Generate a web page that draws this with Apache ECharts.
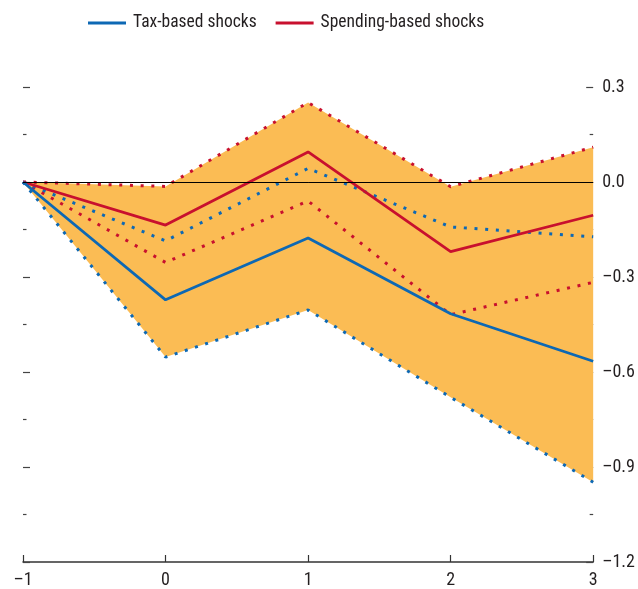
<!DOCTYPE html>
<html>
<head>
<meta charset="utf-8">
<script src="https://cdn.jsdelivr.net/npm/echarts@6/dist/echarts.min.js"></script>
<style>
  html, body { margin: 0; padding: 0; background: #fff; }
  #chart { width: 638px; height: 589px; }
</style>
</head>
<body>
<div id="chart"></div>
<script>
// horizon (years)
const categories = ['-1', '0', '1', '2', '3'];
// point estimates
const taxShock = [0, -0.372, -0.177, -0.416, -0.566];
const spendShock = [0, -0.136, 0.095, -0.220, -0.105];
// confidence bands
const taxUpper = [0, -0.186, 0.043, -0.142, -0.173];
const taxLower = [0, -0.553, -0.404, -0.680, -0.948];
const spendUpper = [0, -0.014, 0.251, -0.015, 0.110];
const spendLower = [0, -0.254, -0.060, -0.419, -0.317];
const yTicks = { min: -1.2, max: 0.3, interval: 0.3 };

const BLUE = '#0D68B4';
const RED = '#C8102E';
const FILL = '#FBBC54';
const FONT = '"Liberation Sans Narrow", "Roboto Condensed", Roboto, sans-serif';

const fmt = v => String(v).replace('-', '\u2013');
const fmtY = v => v.toFixed(1).replace('-', '\u2013');

// band runs from the lowest lower bound to the highest upper bound
const bandWidth = spendUpper.map((u, i) => u - taxLower[i]);

const chart = echarts.init(document.getElementById('chart'));

function dotted(name, data, color) {
  return {
    name: name,
    type: 'line',
    data: data,
    symbol: 'none',
    silent: true,
    z: 3,
    lineStyle: { color: color, width: 3, type: [3, 7.7], cap: 'butt' },
  };
}

const yBase = {
  type: 'value',
  min: yTicks.min,
  max: yTicks.max,
  interval: yTicks.interval,
  axisLine: { show: false },
  splitLine: { show: false },
  axisTick: { show: true, inside: true, length: 7, lineStyle: { color: '#444', width: 1.2 } },
  minorTick: { show: true, splitNumber: 2, length: 3.5, lineStyle: { color: '#444', width: 1.2 } },
};

const option = {
  animation: false,
  textStyle: { fontFamily: FONT },
  legend: {
    left: 83,
    top: 9,
    icon: 'rect',
    itemWidth: 38,
    itemHeight: 3,
    itemGap: 19,
    textStyle: { fontFamily: FONT, fontSize: 17.5, color: '#231F20', padding: [0, 0, 0, 2] },
    data: ['Tax-based shocks', 'Spending-based shocks'],
  },
  grid: { left: 23, right: 44, top: 87, bottom: 26, containLabel: false },
  xAxis: {
    type: 'category',
    data: categories,
    boundaryGap: false,
    axisLine: { show: true, onZero: false, lineStyle: { color: '#333', width: 1.5 } },
    axisTick: { show: true, inside: true, length: 7, lineStyle: { color: '#333', width: 1.2 } },
    axisLabel: { fontFamily: FONT, fontSize: 18, color: '#231F20', margin: 9, formatter: fmt },
  },
  yAxis: [
    Object.assign({}, yBase, { position: 'left', axisLabel: { show: false } }),
    Object.assign({}, yBase, {
      position: 'right',
      axisLabel: { fontFamily: FONT, fontSize: 18, color: '#231F20', margin: 9, formatter: fmtY },
    }),
  ],
  series: [
    {
      name: 'bandBase',
      type: 'line',
      data: taxLower,
      stack: 'band',
      stackStrategy: 'all',
      symbol: 'none',
      silent: true,
      lineStyle: { opacity: 0 },
      z: 1,
    },
    {
      name: 'band',
      type: 'line',
      data: bandWidth,
      stack: 'band',
      stackStrategy: 'all',
      symbol: 'none',
      silent: true,
      lineStyle: { opacity: 0 },
      areaStyle: { color: FILL, opacity: 1 },
      z: 1,
      markLine: {
        silent: true,
        symbol: 'none',
        label: { show: false },
        lineStyle: { color: '#000', width: 1, type: 'solid' },
        data: [{ yAxis: 0 }],
      },
    },
    dotted('spendUpper', spendUpper, RED),
    dotted('spendLower', spendLower, RED),
    dotted('taxUpper', taxUpper, BLUE),
    dotted('taxLower', taxLower, BLUE),
    {
      name: 'Spending-based shocks',
      type: 'line',
      data: spendShock,
      symbol: 'none',
      z: 4,
      itemStyle: { color: RED },
      lineStyle: { color: RED, width: 2.8 },
    },
    {
      name: 'Tax-based shocks',
      type: 'line',
      data: taxShock,
      symbol: 'none',
      z: 4,
      itemStyle: { color: BLUE },
      lineStyle: { color: BLUE, width: 2.8 },
    },
  ],
};

chart.setOption(option);
</script>
</body>
</html>
